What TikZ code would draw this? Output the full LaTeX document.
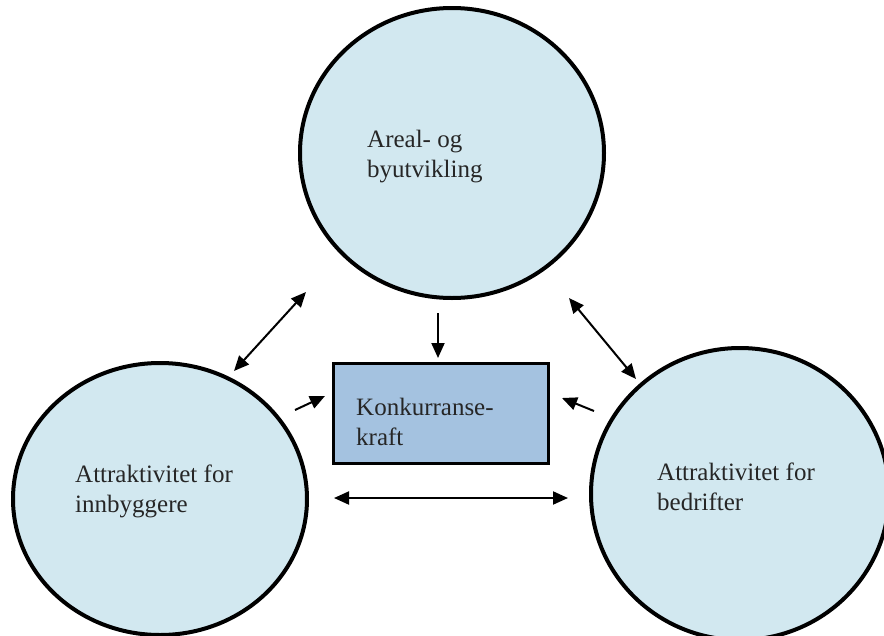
\documentclass[tikz,border=0pt]{standalone}
\usepackage{fontspec}
\setmainfont{Liberation Serif}
\usetikzlibrary{shapes.geometric,arrows.meta}
\definecolor{circfill}{HTML}{D2E8F0}
\definecolor{boxfill}{HTML}{A4C2E0}
\tikzset{
  circ/.style={ellipse, draw=black, line width=4pt, fill=circfill},
  kbox/.style={rectangle, draw=black, line width=3pt, fill=boxfill},
  lbl/.style={align=left, anchor=base west, inner sep=0pt, font=\fontsize{25}{30}\selectfont, text=black!85},
  arr/.style={line width=2pt, -{Triangle[length=15pt,width=13pt]}},
  darr/.style={line width=2pt, {Triangle[length=15pt,width=13pt]}-{Triangle[length=15pt,width=13pt]}}
}
\begin{document}
\begin{tikzpicture}[x=1pt,y=-1pt]
\useasboundingbox (0,0) rectangle (884,635);
\begin{scope}
\clip (0,0) rectangle (884,635);
\node[circ, minimum width=304pt, minimum height=290pt] (top) at (452,153) {};
\node[circ, minimum width=294pt, minimum height=272pt] (left) at (160,499) {};
\node[circ, minimum width=298pt, minimum height=292pt] (right) at (740,494) {};
\end{scope}
\node[kbox, minimum width=215pt, minimum height=100pt] (box) at (440.5,413) {};

\node[lbl] (ttop) at (367,177) {Areal- og\\byutvikling};
\node[lbl] (tleft) at (75,512) {Attraktivitet for\\innbyggere};
\node[lbl] (tright) at (657,510) {Attraktivitet for\\bedrifter};
\node[lbl] (tbox) at (356,445) {Konkurranse-\\kraft};

\coordinate (d1) at (438,313);
\coordinate (d2) at (438,358);
\coordinate (l1) at (234,371);
\coordinate (l2) at (306,292);
\coordinate (r1) at (569,298);
\coordinate (r2) at (636,379);
\coordinate (sl1) at (295,410);
\coordinate (sl2) at (325,396);
\coordinate (sr1) at (594,411);
\coordinate (sr2) at (562,398);
\coordinate (h1) at (334,498);
\coordinate (h2) at (568,498);

\draw[arr] (d1) -- (d2);
\draw[darr] (l1) -- (l2);
\draw[darr] (r1) -- (r2);
\draw[arr] (sl1) -- (sl2);
\draw[arr] (sr1) -- (sr2);
\draw[darr] (h1) -- (h2);
\end{tikzpicture}
\end{document}
